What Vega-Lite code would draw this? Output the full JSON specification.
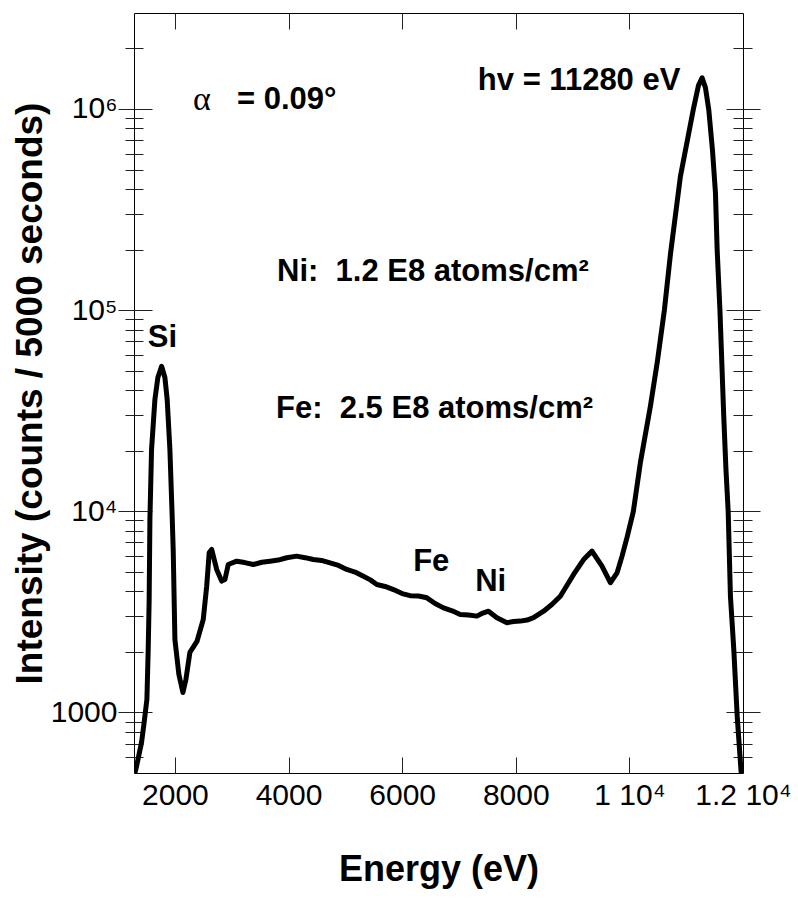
{
  "$schema": "https://vega.github.io/schema/vega-lite/v6.json",
  "width": 609,
  "height": 760,
  "autosize": {"type": "none"},
  "padding": {"left": 134, "top": 13, "right": 55, "bottom": 136},
  "background": "white",
  "config": {
    "view": {"stroke": "black", "strokeWidth": 1},
    "font": "Liberation Sans",
    "axis": {"grid": false, "domain": false, "tickColor": "#222", "tickWidth": 1, "labelColor": "black", "titleColor": "black", "labelFont": "Liberation Sans", "titleFont": "Liberation Sans"}
  },
  "datasets": {
    "spectrum": [
      {"E": 1295, "I": 500}, {"E": 1325, "I": 540}, {"E": 1413, "I": 710}, {"E": 1454, "I": 871},
      {"E": 1507, "I": 1160}, {"E": 1530, "I": 2055}, {"E": 1547, "I": 3648}, {"E": 1560, "I": 9100},
      {"E": 1589, "I": 20280}, {"E": 1648, "I": 35960}, {"E": 1700, "I": 46250}, {"E": 1766, "I": 52600},
      {"E": 1824, "I": 46250}, {"E": 1864, "I": 35960}, {"E": 1912, "I": 20280}, {"E": 1952, "I": 9420},
      {"E": 1970, "I": 6460}, {"E": 2000, "I": 2306}, {"E": 2070, "I": 1545}, {"E": 2141, "I": 1257},
      {"E": 2194, "I": 1459}, {"E": 2264, "I": 1987}, {"E": 2388, "I": 2254}, {"E": 2499, "I": 2897},
      {"E": 2559, "I": 4225}, {"E": 2604, "I": 6240}, {"E": 2647, "I": 6460}, {"E": 2735, "I": 5140},
      {"E": 2823, "I": 4498}, {"E": 2881, "I": 4580}, {"E": 2939, "I": 5440}, {"E": 3087, "I": 5650},
      {"E": 3230, "I": 5560}, {"E": 3380, "I": 5440}, {"E": 3530, "I": 5580}, {"E": 3674, "I": 5650},
      {"E": 3820, "I": 5720}, {"E": 3968, "I": 5875}, {"E": 4144, "I": 5985}, {"E": 4290, "I": 5880},
      {"E": 4437, "I": 5755}, {"E": 4580, "I": 5700}, {"E": 4731, "I": 5542}, {"E": 4880, "I": 5380},
      {"E": 5025, "I": 5140}, {"E": 5170, "I": 4990}, {"E": 5318, "I": 4753}, {"E": 5440, "I": 4560},
      {"E": 5554, "I": 4326}, {"E": 5700, "I": 4230}, {"E": 5847, "I": 4083}, {"E": 6000, "I": 3900},
      {"E": 6141, "I": 3808}, {"E": 6290, "I": 3790}, {"E": 6435, "I": 3714}, {"E": 6580, "I": 3480},
      {"E": 6728, "I": 3311}, {"E": 6880, "I": 3200}, {"E": 7022, "I": 3069}, {"E": 7170, "I": 3050},
      {"E": 7316, "I": 3012}, {"E": 7420, "I": 3120}, {"E": 7520, "I": 3186}, {"E": 7668, "I": 2958},
      {"E": 7845, "I": 2792}, {"E": 7960, "I": 2830}, {"E": 8079, "I": 2845}, {"E": 8200, "I": 2880},
      {"E": 8313, "I": 2958}, {"E": 8490, "I": 3186}, {"E": 8640, "I": 3450}, {"E": 8784, "I": 3783},
      {"E": 9018, "I": 4852}, {"E": 9194, "I": 5755}, {"E": 9342, "I": 6339}, {"E": 9518, "I": 5334},
      {"E": 9665, "I": 4414}, {"E": 9783, "I": 4943}, {"E": 9871, "I": 5985}, {"E": 9959, "I": 7413},
      {"E": 10070, "I": 10000}, {"E": 10193, "I": 17420}, {"E": 10370, "I": 33270}, {"E": 10493, "I": 55600},
      {"E": 10616, "I": 100000}, {"E": 10722, "I": 188800}, {"E": 10898, "I": 461500}, {"E": 11127, "I": 1000000},
      {"E": 11215, "I": 1306000}, {"E": 11280, "I": 1430000}, {"E": 11339, "I": 1277000}, {"E": 11397, "I": 993000},
      {"E": 11462, "I": 628000}, {"E": 11515, "I": 383700}, {"E": 11545, "I": 200000}, {"E": 11594, "I": 100000},
      {"E": 11661, "I": 29720}, {"E": 11700, "I": 16150}, {"E": 11739, "I": 10000}, {"E": 11779, "I": 3777},
      {"E": 11838, "I": 2055}, {"E": 11898, "I": 955}, {"E": 11968, "I": 500}
    ],
    "boldText": [
      {"E": 1524, "I": 73100, "label": "Si"},
      {"E": 6194, "I": 5626, "label": "Fe"},
      {"E": 7286, "I": 4426, "label": "Ni"},
      {"E": 3797, "I": 155600, "label": "Ni:\u00a0\u00a01.2 E8 atoms/cm²"},
      {"E": 3780, "I": 32070, "label": "Fe:\u00a0\u00a02.5 E8 atoms/cm²"},
      {"E": 3092, "I": 1114000, "label": "= 0.09°"}
    ],
    "rightText": [
      {"E": 10898, "I": 1384000, "label": "hv = 11280 eV"}
    ],
    "greekText": [
      {"E": 2317, "I": 1114000, "label": "α"}
    ]
  },
  "layer": [
    {
      "data": {"name": "spectrum"},
      "mark": {"type": "line", "color": "black", "strokeWidth": 5, "strokeJoin": "round", "strokeCap": "round", "clip": true},
      "encoding": {
        "x": {"field": "E", "type": "quantitative",
          "scale": {"type": "linear", "domain": [1280, 12000], "nice": false, "zero": false},
          "axis": {"orient": "bottom", "values": [2000, 4000, 6000, 8000, 10000, 12000], "ticks": false,
            "labelPadding": 7, "labelFontSize": 30, "labelFlush": false, "labelOverlap": false,
            "labelExpr": "datum.value == 10000 ? '1 10⁴' : datum.value == 12000 ? '1.2 10⁴' : format(datum.value, 'd')",
            "title": "Energy (eV)", "titleFontSize": 36, "titleFontWeight": "bold", "titlePadding": 42}},
        "y": {"field": "I", "type": "quantitative",
          "scale": {"type": "log", "domain": [500, 3000000], "nice": false},
          "axis": {"orient": "left",
            "values": [600, 700, 800, 900, 1000, 2000, 3000, 4000, 5000, 6000, 7000, 8000, 9000, 10000, 20000, 30000, 40000, 50000, 60000, 70000, 80000, 90000, 100000, 200000, 300000, 400000, 500000, 600000, 700000, 800000, 900000, 1000000, 2000000],
            "tickSize": {"condition": {"test": "indexof([1000, 10000, 100000, 1000000], datum.value) >= 0", "value": 16}, "value": 9},
            "labelPadding": 1, "labelFontSize": 30, "labelFlush": false, "labelOverlap": false,
            "labelExpr": "datum.value == 1000 ? '1000' : datum.value == 10000 ? '10⁴' : datum.value == 100000 ? '10⁵' : datum.value == 1000000 ? '10⁶' : ''",
            "title": "Intensity (counts / 5000 seconds)", "titleFontSize": 37, "titleFontWeight": "bold", "titlePadding": 1}}
      }
    },
    {
      "data": {"name": "spectrum"},
      "mark": {"type": "line", "strokeOpacity": 0},
      "encoding": {
        "x": {"field": "E", "type": "quantitative",
          "scale": {"type": "linear", "domain": [1280, 12000], "nice": false, "zero": false},
          "axis": {"orient": "bottom", "values": [2000, 4000, 6000, 8000, 10000], "labels": false, "tickSize": -16, "title": null}},
        "y": {"field": "I", "type": "quantitative",
          "scale": {"type": "log", "domain": [500, 3000000], "nice": false},
          "axis": {"orient": "left",
            "values": [600, 700, 800, 900, 1000, 2000, 3000, 4000, 5000, 6000, 7000, 8000, 9000, 10000, 20000, 30000, 40000, 50000, 60000, 70000, 80000, 90000, 100000, 200000, 300000, 400000, 500000, 600000, 700000, 800000, 900000, 1000000, 2000000],
            "tickSize": {"condition": {"test": "indexof([1000, 10000, 100000, 1000000], datum.value) >= 0", "value": -18}, "value": -9},
            "labels": false, "title": null}}
      }
    },
    {
      "data": {"name": "spectrum"},
      "mark": {"type": "line", "strokeOpacity": 0},
      "encoding": {
        "x": {"field": "E", "type": "quantitative",
          "scale": {"type": "linear", "domain": [1280, 12000], "nice": false, "zero": false},
          "axis": {"orient": "top", "values": [2000, 4000, 6000, 8000, 10000], "labels": false, "tickSize": -16, "title": null}},
        "y": {"field": "I", "type": "quantitative",
          "scale": {"type": "log", "domain": [500, 3000000], "nice": false},
          "axis": {"orient": "right",
            "values": [600, 700, 800, 900, 1000, 2000, 3000, 4000, 5000, 6000, 7000, 8000, 9000, 10000, 20000, 30000, 40000, 50000, 60000, 70000, 80000, 90000, 100000, 200000, 300000, 400000, 500000, 600000, 700000, 800000, 900000, 1000000, 2000000],
            "tickSize": {"condition": {"test": "indexof([1000, 10000, 100000, 1000000], datum.value) >= 0", "value": 17}, "value": 9},
            "labels": false, "title": null}}
      }
    },
    {
      "data": {"name": "spectrum"},
      "mark": {"type": "line", "strokeOpacity": 0},
      "encoding": {
        "x": {"field": "E", "type": "quantitative",
          "scale": {"type": "linear", "domain": [1280, 12000], "nice": false, "zero": false},
          "axis": null},
        "y": {"field": "I", "type": "quantitative",
          "scale": {"type": "log", "domain": [500, 3000000], "nice": false},
          "axis": {"orient": "right",
            "values": [600, 700, 800, 900, 1000, 2000, 3000, 4000, 5000, 6000, 7000, 8000, 9000, 10000, 20000, 30000, 40000, 50000, 60000, 70000, 80000, 90000, 100000, 200000, 300000, 400000, 500000, 600000, 700000, 800000, 900000, 1000000, 2000000],
            "tickSize": {"condition": {"test": "indexof([1000, 10000, 100000, 1000000], datum.value) >= 0", "value": -17}, "value": -10},
            "labels": false, "title": null}}
      }
    },
    {
      "data": {"name": "boldText"},
      "mark": {"type": "text", "align": "left", "baseline": "middle", "font": "Liberation Sans", "fontWeight": "bold", "fontSize": 31, "color": "black"},
      "encoding": {
        "x": {"field": "E", "type": "quantitative", "scale": {"type": "linear", "domain": [1280, 12000], "nice": false, "zero": false}, "axis": null},
        "y": {"field": "I", "type": "quantitative", "scale": {"type": "log", "domain": [500, 3000000], "nice": false}, "axis": null},
        "text": {"field": "label"}
      }
    },
    {
      "data": {"name": "rightText"},
      "mark": {"type": "text", "align": "right", "baseline": "middle", "font": "Liberation Sans", "fontWeight": "bold", "fontSize": 31, "color": "black"},
      "encoding": {
        "x": {"field": "E", "type": "quantitative", "scale": {"type": "linear", "domain": [1280, 12000], "nice": false, "zero": false}, "axis": null},
        "y": {"field": "I", "type": "quantitative", "scale": {"type": "log", "domain": [500, 3000000], "nice": false}, "axis": null},
        "text": {"field": "label"}
      }
    },
    {
      "data": {"name": "greekText"},
      "mark": {"type": "text", "align": "left", "baseline": "middle", "font": "Liberation Serif", "fontSize": 34, "color": "black"},
      "encoding": {
        "x": {"field": "E", "type": "quantitative", "scale": {"type": "linear", "domain": [1280, 12000], "nice": false, "zero": false}, "axis": null},
        "y": {"field": "I", "type": "quantitative", "scale": {"type": "log", "domain": [500, 3000000], "nice": false}, "axis": null},
        "text": {"field": "label"}
      }
    }
  ],
  "resolve": {"axis": {"x": "independent", "y": "independent"}}
}
